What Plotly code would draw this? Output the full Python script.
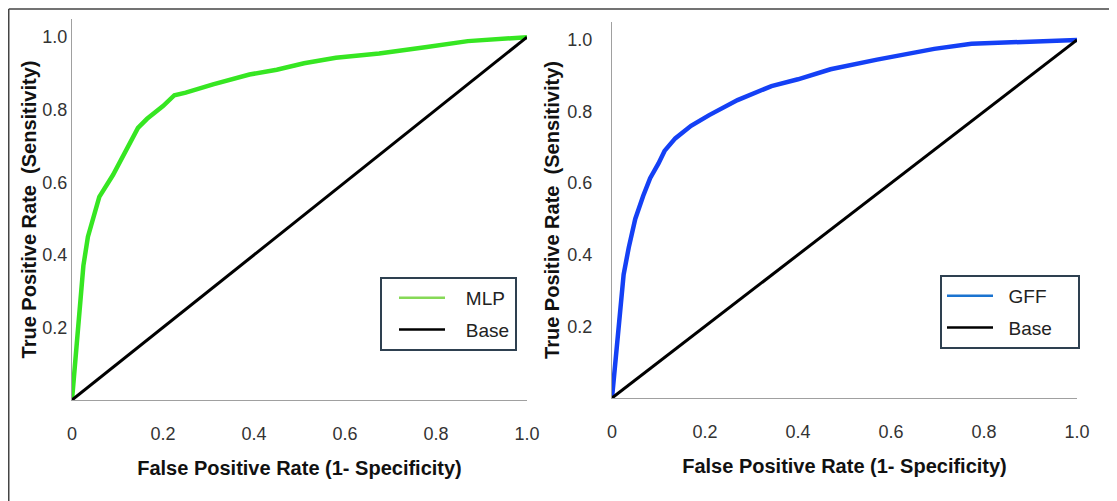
import plotly.graph_objects as go

# ---- data ----
mlp_fpr = [0, 0.025, 0.035, 0.06, 0.09, 0.115, 0.145, 0.165, 0.2, 0.225, 0.25, 0.31,
           0.39, 0.45, 0.51, 0.58, 0.675, 0.78, 0.87, 1.0]
mlp_tpr = [0, 0.37, 0.45, 0.56, 0.62, 0.68, 0.75, 0.775, 0.81, 0.84, 0.847, 0.87,
           0.897, 0.91, 0.928, 0.943, 0.955, 0.973, 0.989, 1.0]

gff_fpr = [0, 0.025, 0.036, 0.05, 0.067, 0.082, 0.1, 0.113, 0.136, 0.17, 0.209, 0.27,
           0.343, 0.4, 0.47, 0.57, 0.693, 0.773, 1.0]
gff_tpr = [0, 0.345, 0.42, 0.5, 0.564, 0.614, 0.655, 0.69, 0.725, 0.76, 0.79, 0.832,
           0.871, 0.89, 0.918, 0.945, 0.975, 0.989, 1.0]

base_x = [0, 1]
base_y = [0, 1]

x_ticks = [0, 0.2, 0.4, 0.6, 0.8, 1.0]
x_ticktext = ["0", "0.2", "0.4", "0.6", "0.8", "1.0"]
y_ticks = [0.2, 0.4, 0.6, 0.8, 1.0]
y_ticktext = ["0.2", "0.4", "0.6", "0.8", "1.0"]

x_title = "False Positive Rate (1- Specificity)"
y_title = "True Positive Rate  (Sensitivity)"

# page is offset by the browser's default 8px body margin
OFF = 8
W, H = 1117 - OFF, 501 - OFF


def px(X):
    return (X - OFF) / W


def py(Y):
    return (H - (Y - OFF)) / H


MLP_COLOR = "#36e622"
MLP_LEG = "#86d957"
GFF_COLOR = "#1440f5"
GFF_LEG = "#1a73d0"

fig = go.Figure()

# left panel
fig.add_trace(go.Scatter(x=mlp_fpr, y=mlp_tpr, mode="lines", line=dict(color=MLP_COLOR, width=4.5),
                         xaxis="x", yaxis="y", showlegend=False))
fig.add_trace(go.Scatter(x=base_x, y=base_y, mode="lines", line=dict(color="black", width=3),
                         xaxis="x", yaxis="y", showlegend=False))
fig.add_trace(go.Scatter(x=[None], y=[None], mode="lines", name="   MLP", line=dict(color=MLP_LEG, width=2.5),
                         xaxis="x", yaxis="y", legend="legend", legendgroup="a"))
fig.add_trace(go.Scatter(x=[None], y=[None], mode="lines", name="   Base", line=dict(color="black", width=2.5),
                         xaxis="x", yaxis="y", legend="legend", legendgroup="b"))

# right panel
fig.add_trace(go.Scatter(x=gff_fpr, y=gff_tpr, mode="lines", line=dict(color=GFF_COLOR, width=4.5),
                         xaxis="x2", yaxis="y2", showlegend=False))
fig.add_trace(go.Scatter(x=base_x, y=base_y, mode="lines", line=dict(color="black", width=3),
                         xaxis="x2", yaxis="y2", showlegend=False))
fig.add_trace(go.Scatter(x=[None], y=[None], mode="lines", name="  GFF", line=dict(color=GFF_LEG, width=2.5),
                         xaxis="x2", yaxis="y2", legend="legend2", legendgroup="c"))
fig.add_trace(go.Scatter(x=[None], y=[None], mode="lines", name="  Base    ", line=dict(color="black", width=2.5),
                         xaxis="x2", yaxis="y2", legend="legend2", legendgroup="d"))

tick_font = dict(family="Liberation Sans, Arial, sans-serif", size=18, color="#333333")
title_font = dict(family="Liberation Sans, Arial, sans-serif", size=20, color="#111111")


def xaxis(domain, anchor):
    return dict(domain=domain, anchor=anchor, range=[0, 1], showline=True, linecolor="#a0a0a0",
                linewidth=1.2, showgrid=False, zeroline=False, tickmode="array", tickvals=x_ticks,
                ticktext=x_ticktext, ticks="", tickfont=tick_font, ticklabelstandoff=17,
                automargin=False,
                title=dict(text="<b>" + x_title + "</b>", font=title_font, standoff=18))


def yaxis(domain, anchor, standoff_lbl, standoff_title):
    return dict(domain=domain, anchor=anchor, range=[0, 1.05], showline=True, linecolor="#a0a0a0",
                linewidth=1.2, showgrid=False, zeroline=False, tickmode="array", tickvals=y_ticks,
                ticktext=y_ticktext, ticks="", tickfont=tick_font, ticklabelstandoff=standoff_lbl,
                automargin=False,
                title=dict(text="<b>" + y_title + "</b>", font=title_font, standoff=standoff_title))


legend_common = dict(bgcolor="white", bordercolor="#2e4050", borderwidth=2,
                     font=dict(family="Liberation Sans, Arial, sans-serif", size=19, color="#222222"),
                     xanchor="left", yanchor="top", tracegroupgap=4, traceorder="grouped",
                     itemwidth=46)

fig.update_layout(
    width=W, height=H,
    margin=dict(l=0, r=0, t=0, b=0, autoexpand=False),
    paper_bgcolor="white", plot_bgcolor="white",
    xaxis=xaxis([px(72), px(527)], "y"),
    yaxis=yaxis([py(400), py(19)], "x", 0, 0),
    xaxis2=xaxis([px(612), px(1077)], "y2"),
    yaxis2=yaxis([py(398), py(22)], "x2", 15, 2),
    legend=dict(x=px(380), y=py(277), indentation=12, **legend_common),
    legend2=dict(x=px(940), y=py(275), **legend_common),
    shapes=[
        dict(type="line", xref="paper", yref="paper", x0=0.75 / W, x1=1, y0=py(9), y1=py(9),
             line=dict(color="#444444", width=1.5)),
        dict(type="line", xref="paper", yref="paper", x0=0.75 / W, x1=0.75 / W, y0=0, y1=py(9),
             line=dict(color="#444444", width=1.5)),
    ],
)

fig.write_html("out.html")
